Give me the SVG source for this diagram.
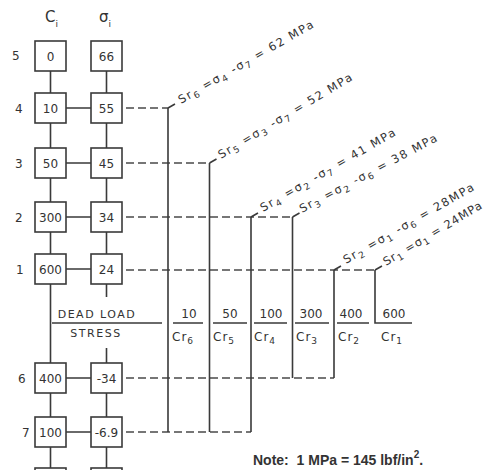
<svg xmlns="http://www.w3.org/2000/svg" width="489" height="470" viewBox="0 0 489 470">
<style>
.box{fill:#fff;stroke:#3a3a3a;stroke-width:1.6}
.ln{stroke:#3a3a3a;stroke-width:1.6;fill:none}
.dash{stroke:#4a4a4a;stroke-width:1.5;fill:none;stroke-dasharray:8 4}
.t{font-family:"DejaVu Sans",sans-serif;font-size:12px;fill:#333;letter-spacing:0.5px}
.hd{font-family:"DejaVu Sans",sans-serif;font-size:15px;fill:#333}
.dl{font-family:"DejaVu Sans",sans-serif;font-size:11px;fill:#333;letter-spacing:1.5px;text-anchor:middle}
.bt{font-family:"DejaVu Sans",sans-serif;font-size:12px;fill:#333;text-anchor:middle}
.lbl{font-family:"DejaVu Sans",sans-serif;font-size:11.5px;fill:#333;letter-spacing:1.6px}
.cr{font-family:"DejaVu Sans",sans-serif;font-size:12px;fill:#333;letter-spacing:1px}
.sub{font-size:9px}
.note{font-family:"Liberation Sans",Arial,sans-serif;font-size:14px;font-weight:bold;fill:#333}
</style>
<rect width="489" height="470" fill="#fff"/>
<!-- headers -->
<text class="hd" x="45" y="22">C<tspan class="sub" dy="5">i</tspan></text>
<text class="hd" x="99" y="22">σ<tspan class="sub" dy="5">i</tspan></text>
<!-- row labels -->
<g class="t" text-anchor="middle">
<text x="16" y="60">5</text>
<text x="19" y="113">4</text>
<text x="19" y="168">3</text>
<text x="19" y="222">2</text>
<text x="20" y="274">1</text>
<text x="22" y="383">6</text>
<text x="26" y="437">7</text>
</g>
<g id="connectors">
<!-- C column -->
<path class="ln" d="M50.5 71V93M50.5 123V148M50.5 178V202M50.5 232V254M50.5 284V363M50.5 393V417M50.5 447V468"/>
<!-- sigma column -->
<path class="ln" d="M106.5 71V93M106.5 123V148M106.5 178V202M106.5 232V254M106.5 284V297M106.5 348V363M106.5 393V417M106.5 447V468"/>
<!-- row links -->
<path class="ln" d="M66 108H91M66 163H91M66 217H91M66 269H91M66 378H91M66 432H91"/>
<!-- dashed -->
<path class="dash" d="M126 108H168M126 163H209.5M126 217H292.5M126 270H375M126 378H334M126 432H251"/>
<!-- verticals -->
<path class="ln" d="M168 108V432M209.5 163V432M251 217V432M292.5 217V378M334 270V378M375 270V323H412"/>
<!-- ticks -->
<path class="ln" d="M168 108l7 -4M209.5 163l7 -4M251 217l7 -4M292.5 217l7 -4M334 270l7 -4M375 270l7 -4"/>
<!-- dead load line segments -->
<path class="ln" d="M52 323H162M173 323H203M213 323H247M254 323H287M295 323H329M337 323H369"/>
</g>
<g id="n5c"><rect class="box" x="35" y="41" width="31" height="30"/><text class="bt" x="50.5" y="60.5">0</text></g>
<g id="n5s"><rect class="box" x="91" y="41" width="31" height="30"/><text class="bt" x="106.5" y="60.5">66</text></g>
<g id="n4c"><rect class="box" x="35" y="93" width="31" height="30"/><text class="bt" x="50.5" y="112.5">10</text></g>
<g id="n4s"><rect class="box" x="91" y="93" width="31" height="30"/><text class="bt" x="106.5" y="112.5">55</text></g>
<g id="n3c"><rect class="box" x="35" y="148" width="31" height="30"/><text class="bt" x="50.5" y="167.5">50</text></g>
<g id="n3s"><rect class="box" x="91" y="148" width="31" height="30"/><text class="bt" x="106.5" y="167.5">45</text></g>
<g id="n2c"><rect class="box" x="35" y="202" width="31" height="30"/><text class="bt" x="50.5" y="221.5">300</text></g>
<g id="n2s"><rect class="box" x="91" y="202" width="31" height="30"/><text class="bt" x="106.5" y="221.5">34</text></g>
<g id="n1c"><rect class="box" x="35" y="254" width="31" height="30"/><text class="bt" x="50.5" y="273.5">600</text></g>
<g id="n1s"><rect class="box" x="91" y="254" width="31" height="30"/><text class="bt" x="106.5" y="273.5">24</text></g>
<g id="n6c"><rect class="box" x="35" y="363" width="31" height="30"/><text class="bt" x="50.5" y="382.5">400</text></g>
<g id="n6s"><rect class="box" x="91" y="363" width="31" height="30"/><text class="bt" x="106.5" y="382.5">-34</text></g>
<g id="n7c"><rect class="box" x="35" y="417" width="31" height="30"/><text class="bt" x="50.5" y="436.5">100</text></g>
<g id="n7s"><rect class="box" x="91" y="417" width="31" height="30"/><text class="bt" x="106.5" y="436.5">-6.9</text></g>
<g id="n8c"><rect class="box" x="35" y="468" width="31" height="30"/></g>
<g id="n8s"><rect class="box" x="91" y="468" width="31" height="30"/></g>
<!-- dead load -->
<text class="dl" x="97" y="318">DEAD LOAD</text>
<text class="dl" x="96" y="337">STRESS</text>
<!-- Cr values -->
<g class="bt">
<text x="189" y="318">10</text>
<text x="230" y="318">50</text>
<text x="271" y="318">100</text>
<text x="311" y="318">300</text>
<text x="351" y="318">400</text>
<text x="394" y="318">600</text>
</g>
<g class="cr">
<text x="172" y="341">Cr<tspan class="sub" dy="3">6</tspan></text>
<text x="213" y="341">Cr<tspan class="sub" dy="3">5</tspan></text>
<text x="254" y="341">Cr<tspan class="sub" dy="3">4</tspan></text>
<text x="296" y="341">Cr<tspan class="sub" dy="3">3</tspan></text>
<text x="338" y="341">Cr<tspan class="sub" dy="3">2</tspan></text>
<text x="381" y="341">Cr<tspan class="sub" dy="3">1</tspan></text>
</g>
<!-- rotated Sr labels -->
<g class="lbl">
<text transform="translate(181,104) rotate(-30)">Sr<tspan class="sub" dy="3">6</tspan><tspan dy="-3"> =σ</tspan><tspan class="sub" dy="3">4</tspan><tspan dy="-3"> -σ</tspan><tspan class="sub" dy="3">7</tspan><tspan dy="-3"> = 62 MPa</tspan></text>
<text transform="translate(221,159) rotate(-31)">Sr<tspan class="sub" dy="3">5</tspan><tspan dy="-3"> =σ</tspan><tspan class="sub" dy="3">3</tspan><tspan dy="-3"> -σ</tspan><tspan class="sub" dy="3">7</tspan><tspan dy="-3"> = 52 MPa</tspan></text>
<text transform="translate(263,212) rotate(-30)">Sr<tspan class="sub" dy="3">4</tspan><tspan dy="-3"> =σ</tspan><tspan class="sub" dy="3">2</tspan><tspan dy="-3"> -σ</tspan><tspan class="sub" dy="3">7</tspan><tspan dy="-3"> = 41 MPa</tspan></text>
<text transform="translate(302,213) rotate(-28)">Sr<tspan class="sub" dy="3">3</tspan><tspan dy="-3"> =σ</tspan><tspan class="sub" dy="3">2</tspan><tspan dy="-3"> -σ</tspan><tspan class="sub" dy="3">6</tspan><tspan dy="-3"> = 38 MPa</tspan></text>
<text transform="translate(346,264) rotate(-30)">Sr<tspan class="sub" dy="3">2</tspan><tspan dy="-3"> =σ</tspan><tspan class="sub" dy="3">1</tspan><tspan dy="-3"> -σ</tspan><tspan class="sub" dy="3">6</tspan><tspan dy="-3"> = 28MPa</tspan></text>
<text transform="translate(386,266) rotate(-31)" style="letter-spacing:1px">Sr<tspan class="sub" dy="3">1</tspan><tspan dy="-3"> =σ</tspan><tspan class="sub" dy="3">1</tspan><tspan dy="-3"> = 24MPa</tspan></text>
</g>
<text class="note" x="253" y="465" xml:space="preserve">Note:  1 MPa = 145 lbf/in<tspan style="font-size:10px" dy="-7">2</tspan><tspan dy="7">.</tspan></text>
</svg>
